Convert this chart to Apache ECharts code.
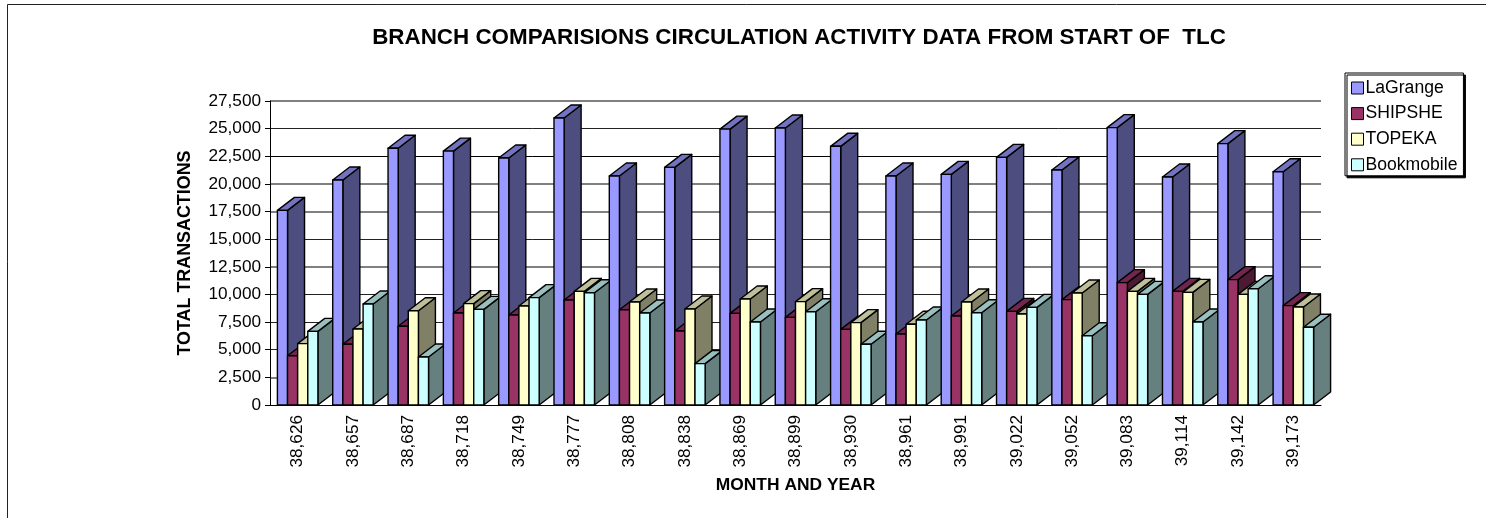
<!DOCTYPE html>
<html>
<head>
<meta charset="utf-8">
<style>html,body{margin:0;padding:0;background:#fff}#c{width:1486px;height:518px}</style>
<script src="https://cdn.jsdelivr.net/npm/echarts@6/dist/echarts.min.js"></script>
</head>
<body>
<div id="c"></div>
<script>
var categories = ['38,626','38,657','38,687','38,718','38,749','38,777','38,808','38,838','38,869','38,899','38,930','38,961','38,991','39,022','39,052','39,083','39,114','39,142','39,173'];
var laGrange  = [17610,20350,23220,22970,22340,25960,20710,21500,24960,25060,23400,20710,20860,22400,21260,25090,20620,23640,21100];
var shipshe   = [4460,5490,7120,8320,8140,9500,8620,6690,8290,7930,6840,6420,8050,8470,9530,11070,10280,11340,8990];
var topeka    = [5550,6870,8530,9170,8960,10280,9320,8680,9590,9350,7450,7300,9320,8230,10130,10280,10190,10010,8860];
var bookmobile= [6660,9140,4340,8650,9710,10160,8320,3740,7510,8440,5490,7690,8350,8830,6270,10010,7510,10520,7030];
var seriesNames = ['LaGrange','SHIPSHE','TOPEKA','Bookmobile'];
var seriesValues = [laGrange, shipshe, topeka, bookmobile];
var frontColors = ['#9999FF','#993366','#FFFFCC','#CCFFFF'];
var topColors   = ['#7373BF','#73264D','#BFBF99','#99BFBF'];
var sideColors  = ['#4D4D80','#4D1A33','#808066','#668080'];
var darkGrid = ['#111','transparent','#222','#222','#222','transparent','#222','transparent','transparent','#000','#222','transparent'];
var greyGrid = ['transparent','#808080','transparent','transparent','transparent','#808080','transparent','#808080','#808080','transparent','transparent','#808080'];
var FONT = '"Liberation Sans", Arial, sans-serif';
var DX = 17, DY = 13, LW = 1.4;

function makeRender(s) {
  return function (params, api) {
    var idx = api.value(0);
    var top = api.coord([idx, api.value(1)]);
    var base = api.coord([idx, 0]);
    var band = api.size([1, 0])[0];
    var w = band * 0.183;
    var x0 = top[0] - 2 * w + s * w;
    var x1 = x0 + w;
    var y0 = top[1], yb = base[1];
    var z2 = idx * 10 + s;
    var st = function (c) { return { fill: c, stroke: '#000', lineWidth: LW, lineJoin: 'round' }; };
    return { type: 'group', children: [
      { type: 'polygon', z2: z2, shape: { points: [[x1,yb],[x1+DX,yb-DY],[x1+DX,y0-DY],[x1,y0]] }, style: st(sideColors[s]) },
      { type: 'polygon', z2: z2, shape: { points: [[x0,y0],[x0+DX,y0-DY],[x1+DX,y0-DY],[x1,y0]] }, style: st(topColors[s]) },
      { type: 'rect', z2: z2, shape: { x: x0, y: y0, width: w, height: yb - y0 }, style: st(frontColors[s]) }
    ]};
  };
}

var chart = echarts.init(document.getElementById('c'), null, { renderer: 'canvas' });
chart.setOption({
  animation: false,
  backgroundColor: '#fff',
  textStyle: { fontFamily: FONT, color: '#000' },
  title: {
    text: 'BRANCH COMPARISIONS CIRCULATION ACTIVITY DATA FROM START OF  TLC',
    left: 794, top: 22, textAlign: 'center',
    textStyle: { fontFamily: FONT, fontSize: 22.4, fontWeight: 'bold', color: '#000' }
  },
  legend: {
    orient: 'vertical', left: 1345, top: 73,
    padding: [6, 6, 2, 6], itemWidth: 12, itemHeight: 12, itemGap: 7.6,
    backgroundColor: '#fff', borderColor: '#000', borderWidth: 1,
    shadowColor: '#000', shadowOffsetX: 2, shadowOffsetY: 2, shadowBlur: 0,
    icon: 'rect',
    itemStyle: { borderColor: '#000', borderWidth: 1 },
    textStyle: { fontFamily: FONT, fontSize: 17.6, color: '#000', padding: [0, 0, 0, -3] },
    data: seriesNames
  },
  grid: { left: 270, right: 165, top: 101, bottom: 113 },
  xAxis: {
    type: 'category', data: categories,
    name: 'MONTH AND YEAR', nameLocation: 'middle', nameGap: 72,
    nameTextStyle: { fontFamily: FONT, fontWeight: 'bold', fontSize: 17.4, color: '#000' },
    axisLine: { lineStyle: { color: '#000', width: 1 } },
    axisTick: { show: false },
    axisLabel: { rotate: 90, margin: 10, fontFamily: FONT, fontSize: 17.2, color: '#000', interval: 0 },
    splitLine: { show: false }
  },
  yAxis: [{
    type: 'value', min: 0, max: 27500, interval: 2500,
    name: 'TOTAL TRANSACTIONS', nameLocation: 'middle', nameGap: 76,
    nameTextStyle: { fontFamily: FONT, fontWeight: 'bold', fontSize: 17.9, color: '#000' },
    axisLine: { show: true, lineStyle: { color: '#000', width: 1 } },
    axisTick: { show: true, length: 5, lineStyle: { color: '#000' } },
    axisLabel: { margin: 9, fontFamily: FONT, fontSize: 17.2, color: '#000' },
    splitLine: { show: true, lineStyle: { color: darkGrid, width: 1 } }
  }, {
    type: 'value', min: 0, max: 27500, interval: 2500, position: 'left',
    axisLine: { show: false }, axisTick: { show: false }, axisLabel: { show: false },
    splitLine: { show: true, lineStyle: { color: greyGrid, width: 2 } }
  }],
  graphic: [{
    type: 'polyline', silent: true, z: -1,
    shape: { points: [[7.5, 518], [7.5, 4.5], [1486, 4.5]] },
    style: { fill: 'none', stroke: '#222', lineWidth: 1 }
  }],
  series: seriesValues.map(function (vals, s) {
    return {
      name: seriesNames[s], type: 'custom', clip: false,
      xAxisIndex: 0, yAxisIndex: 0,
      itemStyle: { color: frontColors[s] },
      encode: { x: 0, y: 1 },
      data: vals.map(function (v, i) { return [i, v]; }),
      renderItem: makeRender(s)
    };
  })
});
</script>
</body>
</html>
